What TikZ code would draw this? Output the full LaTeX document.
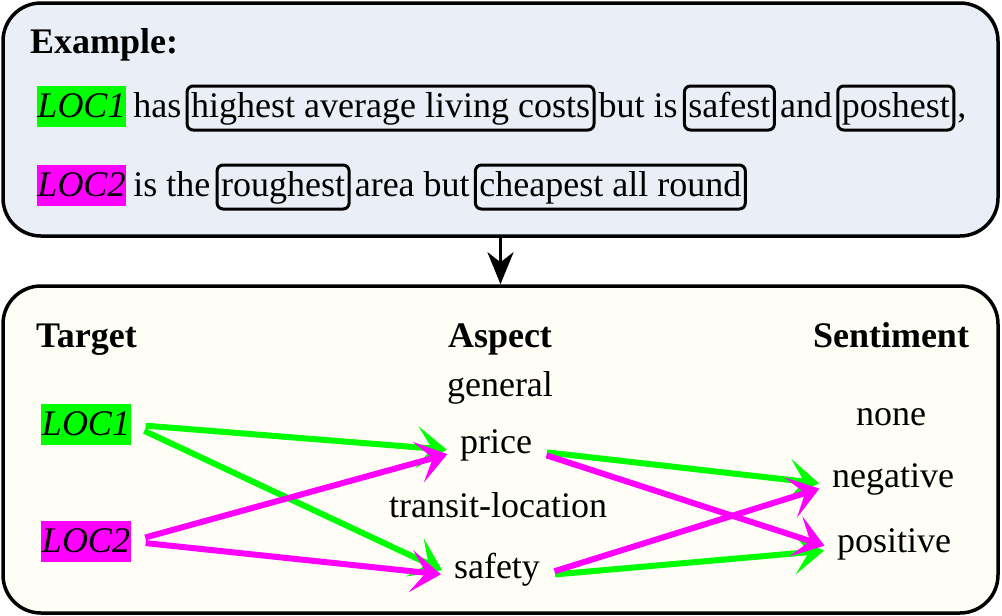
\documentclass[tikz,border=0pt]{standalone}
\usepackage{fontspec}
\setmainfont{Liberation Serif}
\usepackage{tikz}
\usetikzlibrary{arrows.meta}

\definecolor{topfill}{HTML}{E9EEF7}
\definecolor{botfill}{HTML}{FEFDF6}
\definecolor{locgreen}{HTML}{00FF00}
\definecolor{locmag}{HTML}{FF00FF}

\begin{document}
\begin{tikzpicture}[x=1pt, y=-1pt,
	every node/.style={font=\fontsize{36}{40}\selectfont, inner sep=0pt},
	panel/.style={draw, line width=3.5pt, rounded corners=38pt, minimum width=995pt},
	wordbox/.style={draw, line width=3pt, rounded corners=6pt, inner xsep=4pt, text height=31pt, text depth=13pt, anchor=base west},
	hlbox/.style={inner xsep=0.5pt, text height=31pt, text depth=10pt, font=\fontsize{36}{40}\selectfont\itshape},
	plain/.style={anchor=base west},
	link/.style={line width=6pt, -{Stealth[length=30pt, width=42pt, inset=15pt]}, shorten <=15pt, shorten >=13pt}
]
	\useasboundingbox (0,0) rectangle (1002,616);
	\node[panel, fill=topfill, minimum height=233pt] (top) at (500.5, 119.5) {};
	\node[panel, fill=botfill, minimum height=327pt] (bot) at (500.5, 449.5) {};
	\draw[line width=3.5pt, -{Stealth[length=32pt, width=26pt, inset=10pt]}] (top.south) -- (bot.north);

	\node[plain, font=\fontsize{36}{40}\selectfont\bfseries] (example) at (30, 53) {Example:};

	\node[hlbox, fill=locgreen, anchor=base] (loca) at (81.5, 117) {LOC1};
	\node[plain] (has) at ([xshift=7pt]loca.base east) {has};
	\node[wordbox] (costs) at ([xshift=4pt]has.base east) {highest average living costs};
	\node[plain] (butis) at ([xshift=3pt]costs.base east) {but is};
	\node[wordbox] (safest) at ([xshift=5pt]butis.base east) {safest};
	\node[plain] (and) at ([xshift=4pt]safest.base east) {and};
	\node[wordbox] (poshest) at ([xshift=4pt]and.base east) {poshest};
	\node[plain] (comma) at ([xshift=2pt]poshest.base east) {,};

	\node[hlbox, fill=locmag, anchor=base] (locb) at (81.5, 196) {LOC2};
	\node[plain] (isthe) at ([xshift=7pt]locb.base east) {is the};
	\node[wordbox] (roughest) at ([xshift=5pt]isthe.base east) {roughest};
	\node[plain] (areabut) at ([xshift=4pt]roughest.base east) {area but};
	\node[wordbox] (cheapest) at ([xshift=4pt]areabut.base east) {cheapest all round};

	\node[plain, font=\fontsize{36}{40}\selectfont\bfseries] (target) at (36, 347) {Target};
	\node[anchor=base, font=\fontsize{36}{40}\selectfont\bfseries] (aspect) at (500, 347) {Aspect};
	\node[anchor=base, font=\fontsize{36}{40}\selectfont\bfseries] (sentiment) at (891, 347) {Sentiment};

	\node[hlbox, fill=locgreen, anchor=base] (tloca) at (86, 435) {LOC1};
	\node[hlbox, fill=locmag, anchor=base] (tlocb) at (86, 552) {LOC2};

	\node[anchor=base] (general) at (500, 396) {general};
	\node[anchor=base] (price) at (496, 453) {price};
	\node[anchor=base] (transit) at (498, 517) {transit-location};
	\node[anchor=base] (safety) at (497, 578) {safety};

	\node[anchor=base] (none) at (891, 425) {none};
	\node[anchor=base] (negative) at (893, 487) {negative};
	\node[anchor=base] (positive) at (894, 552) {positive};

	\draw[link, locgreen] (tloca.east) -- (price.mid west);
	\draw[link, locgreen] (tloca.east) -- (safety.mid west);
	\draw[link, locgreen] (price.mid east) -- (negative.mid west);
	\draw[link, locgreen] (safety.mid east) -- (positive.mid west);
	\draw[link, locmag] (tlocb.east) -- (price.mid west);
	\draw[link, locmag] (tlocb.east) -- (safety.mid west);
	\draw[link, locmag] (price.mid east) -- (positive.mid west);
	\draw[link, locmag] (safety.mid east) -- (negative.mid west);
\end{tikzpicture}
\end{document}
